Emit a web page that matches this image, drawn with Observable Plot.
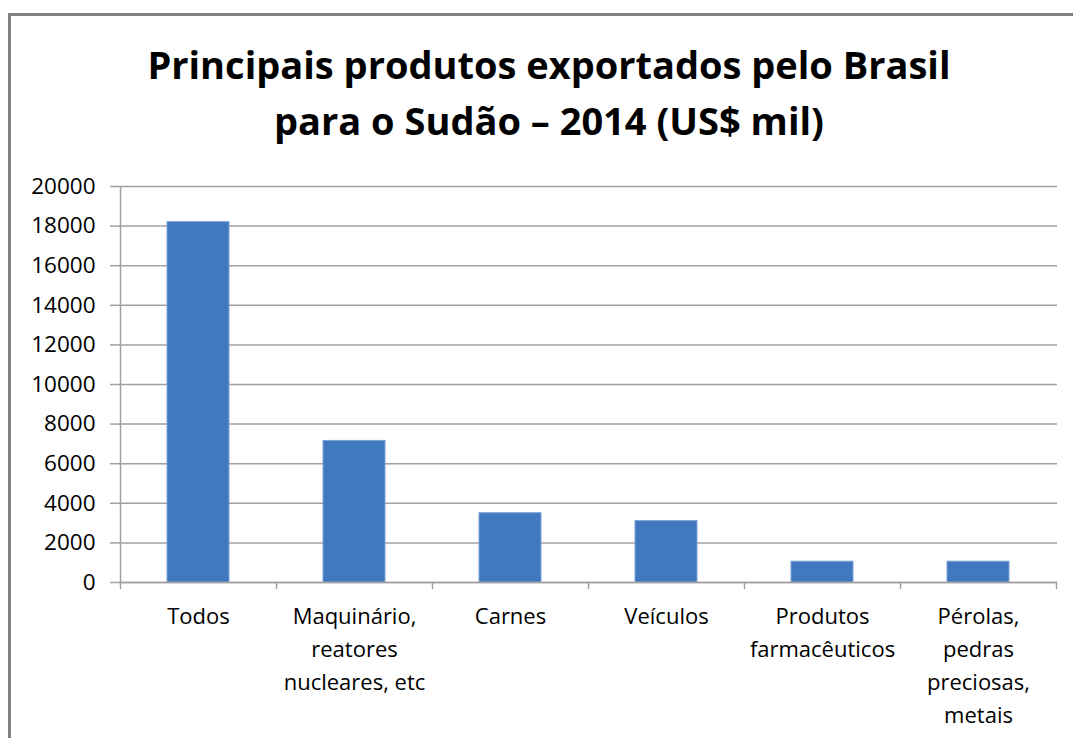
<!DOCTYPE html>
<html>
<head>
<meta charset="utf-8">
<script src="https://cdn.jsdelivr.net/npm/d3@7"></script>
<script src="https://cdn.jsdelivr.net/npm/@observablehq/plot@0.6"></script>
<style>
  html, body { margin: 0; padding: 0; background: #fff; overflow: hidden; width: 1073px; height: 738px; }
  #frame { position: absolute; left: 8px; top: 13px; width: 1200px; height: 900px; border: 3px solid #808080; box-sizing: border-box; }
  #title { position: absolute; left: 0; top: 0; width: 1098px; height: 160px; text-align: center;
           font-family: "Open Sans", sans-serif; font-weight: 700; font-size: 38px; line-height: 56px; color: #000; padding-top: 36px; box-sizing: border-box; }
  #chart { position: absolute; left: 0; top: 160px; }
  #chart svg { overflow: visible; }
</style>
</head>
<body>
<div id="frame"></div>
<div id="title">Principais produtos exportados pelo Brasil<br>para o Sudão – 2014 (US$ mil)</div>
<div id="chart"></div>
<script>
const categories = ["Todos", "Maquinário,\nreatores\nnucleares, etc", "Carnes", "Veículos", "Produtos\nfarmacêuticos", "Pérolas,\npedras\npreciosas,\nmetais"];
const values = [18200, 7150, 3500, 3100, 1050, 1050];
const yTicks = [0, 2000, 4000, 6000, 8000, 10000, 12000, 14000, 16000, 18000, 20000];

const data = categories.map((c, i) => ({category: c, value: values[i]}));
const firstCat = [categories[0]];
const lastCat = [categories[categories.length - 1]];
const axisColor = "#a0a0a0";

const plot = Plot.plot({
  width: 1073,
  height: 578,
  marginLeft: 120,
  marginRight: 16,
  marginTop: 26,
  marginBottom: 156,
  style: {fontFamily: "'Open Sans', sans-serif", fontSize: "22px", color: "#000", background: "transparent"},
  x: {domain: categories, paddingInner: 0.6, paddingOuter: 0.3, label: null},
  y: {domain: [0, 20000], label: null},
  marks: [
    Plot.gridY(yTicks, {stroke: axisColor, strokeOpacity: 1, strokeWidth: 1.5}),
    Plot.barY(data, {x: "category", y: "value", fill: "#4079bd", stroke: "#7aa3d6", strokeWidth: 1}),
    Plot.ruleY([0], {stroke: axisColor, strokeWidth: 1.5}),
    Plot.ruleX(firstCat, {x: d => d, y1: 0, y2: 20000, dx: -78, stroke: axisColor, strokeWidth: 1.5}),
    Plot.axisY({ticks: yTicks, tickSize: 10, tickPadding: 15, stroke: axisColor, strokeWidth: 1.5, fontSize: 22.5, fill: "#000", tickFormat: d => String(d)}),
    Plot.axisX({tickSize: 7, dx: -78, stroke: axisColor, strokeWidth: 1.5, tickFormat: () => ""}),
    Plot.axisX({ticks: lastCat, tickSize: 7, dx: 78, stroke: axisColor, strokeWidth: 1.5, tickFormat: () => ""}),
    Plot.axisX({tickSize: 0, tickPadding: 18, fontSize: 22, fill: "#000", lineHeight: 1.5, textOverflow: null})
  ]
});
document.getElementById("chart").appendChild(plot);
</script>
</body>
</html>
